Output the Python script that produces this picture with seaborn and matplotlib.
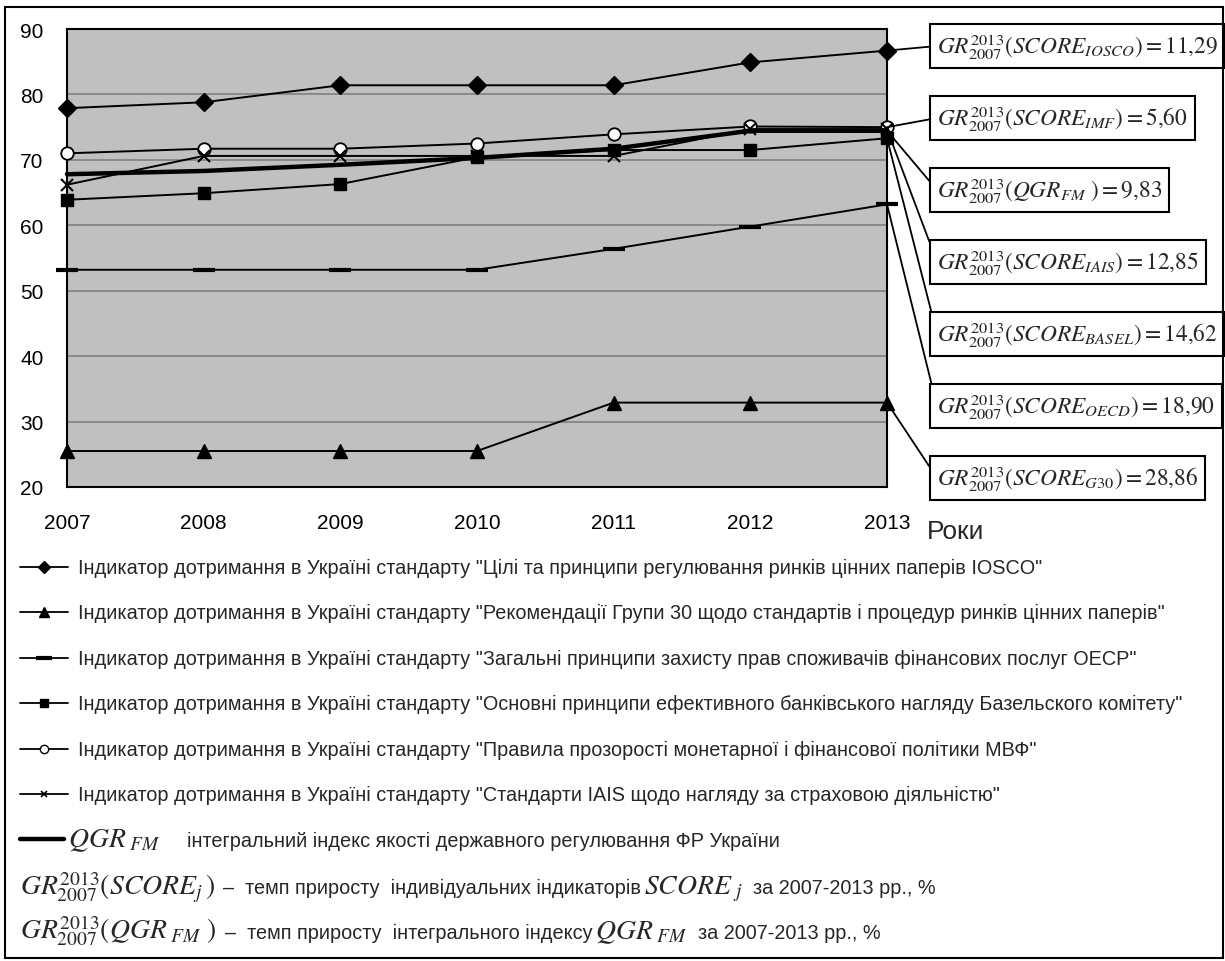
import matplotlib
matplotlib.use('Agg')
import numpy as np
import pandas as pd
import seaborn as sns
import matplotlib.pyplot as plt
from matplotlib.lines import Line2D
from matplotlib.patches import Rectangle

# Дані
years = [2007, 2008, 2009, 2010, 2011, 2012, 2013]
iosco = [77.9, 78.8, 81.4, 81.4, 81.4, 84.9, 86.7]
g30 = [25.5, 25.5, 25.5, 25.5, 32.9, 32.9, 32.9]
oecd = [53.2, 53.2, 53.2, 53.2, 56.4, 59.8, 63.2]
basel = [63.9, 64.9, 66.3, 70.4, 71.5, 71.5, 73.3]
imf = [71.0, 71.7, 71.7, 72.5, 73.9, 75.1, 75.0]
iais = [66.2, 70.6, 70.6, 70.6, 70.6, 74.7, 74.7]
qgr = [67.8, 68.3, 69.25, 70.3, 71.7, 74.45, 74.45]

box_labels = [
    r'$GR_{2007}^{2013}(SCORE_{IOSCO}) = 11{,}29$',
    r'$GR_{2007}^{2013}(SCORE_{IMF}) = 5{,}60$',
    r'$GR_{2007}^{2013}(QGR_{FM}\ ) = 9{,}83$',
    r'$GR_{2007}^{2013}(SCORE_{IAIS}) = 12{,}85$',
    r'$GR_{2007}^{2013}(SCORE_{BASEL}) = 14{,}62$',
    r'$GR_{2007}^{2013}(SCORE_{OECD}) = 18{,}90$',
    r'$GR_{2007}^{2013}(SCORE_{G30}) = 28{,}86$',
]
box_series = [iosco, imf, qgr, iais, basel, oecd, g30]

leg_texts = [
    'Індикатор дотримання в Україні стандарту "Цілі та принципи регулювання ринків цінних паперів IOSCO"',
    'Індикатор дотримання в Україні стандарту "Рекомендації Групи 30 щодо стандартів і процедур ринків цінних паперів"',
    'Індикатор дотримання в Україні стандарту "Загальні принципи захисту прав споживачів фінансових послуг ОЕСР"',
    'Індикатор дотримання в Україні стандарту "Основні принципи ефективного банківського нагляду Базельского комітету"',
    'Індикатор дотримання в Україні стандарту "Правила прозорості монетарної і фінансової політики МВФ"',
    'Індикатор дотримання в Україні стандарту "Стандарти IAIS щодо нагляду за страховою діяльністю"',
]

sns.set_theme(style='white')
plt.rcParams['font.family'] = ['Liberation Sans', 'DejaVu Sans']
plt.rcParams['mathtext.fontset'] = 'stix'
LEG_FS = 14.3

W, H = 1225, 962
fig = plt.figure(figsize=(W / 100, H / 100), dpi=100)
ax = fig.add_axes([67 / W, 1 - 488 / H, 820 / W, 458 / H])
ax.set_facecolor('#c0c0c0')


def fp(x, y):
    # пікселі (зверху-зліва) -> координати фігури
    return x / W, 1 - y / H


# серії: значення, маркер, розмір, заливка, товщина лінії
specs = [
    (iosco, 'D', 9, 'black', 1.4, 1),
    (g30, '^', 10, 'black', 1.4, 1),
    (oecd, '_', 16, 'black', 1.4, 3),
    (basel, 's', 8, 'black', 1.4, 1),
    (imf, 'o', 9, 'white', 1.4, 1.3),
    (iais, 'x', 8, 'black', 1.4, 1.5),
    (qgr, None, 0, 'black', 3.2, 1),
]

for vals, mk, ms, mfc, lw, mew in specs:
    d = pd.DataFrame({'Рік': years, 'Значення': vals})
    kw = {}
    if mk:
        kw = dict(marker=mk, markersize=ms, markerfacecolor=mfc,
                  markeredgecolor='black', markeredgewidth=mew)
    sns.lineplot(data=d, x='Рік', y='Значення', ax=ax, color='black',
                 linewidth=lw, clip_on=False, zorder=3, **kw)

ax.set_xlim(2007, 2013)
ax.set_ylim(20, 90)
ax.set_xticks(years)
ax.set_yticks(range(20, 91, 10))
ax.set_xlabel('')
ax.set_ylabel('')
ax.grid(axis='y', color='#858585', linewidth=1.3)
ax.set_axisbelow(True)
for s in ax.spines.values():
    s.set_color('black')
    s.set_linewidth(1.5)
ax.tick_params(axis='both', direction='out', length=8, width=1.3,
               labelsize=15, colors='black')
ax.tick_params(axis='x', pad=11)
ax.tick_params(axis='y', pad=9)

fig.text(*fp(927, 532), 'Роки', fontsize=19, va='center', ha='left')

# рамки з темпами приросту
box_mid = [47, 119, 191, 263, 335, 407, 479]
for lab, vals, ym in zip(box_labels, box_series, box_mid):
    ax.annotate(lab, xy=(2013, vals[-1]), xycoords='data',
                xytext=(937, H - ym), textcoords='figure pixels',
                ha='left', va='center', fontsize=16.8,
                bbox=dict(boxstyle='square,pad=0.3', fc='white', ec='black', lw=1.5),
                arrowprops=dict(arrowstyle='-', color='black', lw=1.3,
                                relpos=(0, 0.5), shrinkA=0, shrinkB=0),
                annotation_clip=False, zorder=5)

# легенда
rows = [568, 613, 659, 704, 750, 795, 840, 887, 932]
leg_marks = [('D', 6, 'black', 1), ('^', 7, 'black', 1), ('_', 11, 'black', 3),
             ('s', 6, 'black', 1), ('o', 6, 'white', 1), ('x', 5, 'black', 1.2)]
for y, txt, (mk, ms, mfc, mew) in zip(rows, leg_texts, leg_marks):
    x0, y0 = fp(20, y)
    x1, _ = fp(68, y)
    fig.add_artist(Line2D([x0, x1], [y0, y0], color='black', lw=1.3))
    fig.add_artist(Line2D([(x0 + x1) / 2], [y0], marker=mk, markersize=ms,
                          markerfacecolor=mfc, markeredgecolor='black',
                          markeredgewidth=mew, lw=0))
    fig.text(*fp(78, y), txt, fontsize=LEG_FS, va='center', ha='left')

x0, y0 = fp(20, rows[6])
x1, _ = fp(64, rows[6])
fig.add_artist(Line2D([x0, x1], [y0, y0], color='black', lw=3.2))

fig.canvas.draw()
renderer = fig.canvas.get_renderer()


def put_row(y, pieces, x):
    for kind, s, gap in pieces:
        x += gap
        if kind == 'm':
            t = fig.text(*fp(x, y + 7), s, fontsize=20, va='baseline', ha='left')
        else:
            t = fig.text(*fp(x, y + 7), s, fontsize=LEG_FS,
                         va='baseline', ha='left')
        x = t.get_window_extent(renderer).x1


put_row(rows[6], [('m', r'$QGR_{\ FM}$', 0),
                  ('t', 'інтегральний індекс якості державного регулювання ФР України', 26)], 68)
put_row(rows[7], [('m', r'$GR_{2007}^{2013}(SCORE_j\,)$', 0),
                  ('t', '–  темп приросту  індивідуальних індикаторів', 8),
                  ('m', r'$SCORE_{\ j}$', 3),
                  ('t', 'за 2007-2013 рр., %', 10)], 20)
put_row(rows[8], [('m', r'$GR_{2007}^{2013}(QGR_{\ FM}\ )$', 0),
                  ('t', '–  темп приросту  інтегрального індексу', 8),
                  ('m', r'$QGR_{\ FM}$', 3),
                  ('t', 'за 2007-2013 рр., %', 10)], 20)

# зовнішня рамка
fig.add_artist(Rectangle(fp(5, 959), 1218 / W, 951 / H, transform=fig.transFigure,
                         fill=False, ec='black', lw=1.5))

fig.savefig('out.png', dpi=100)
